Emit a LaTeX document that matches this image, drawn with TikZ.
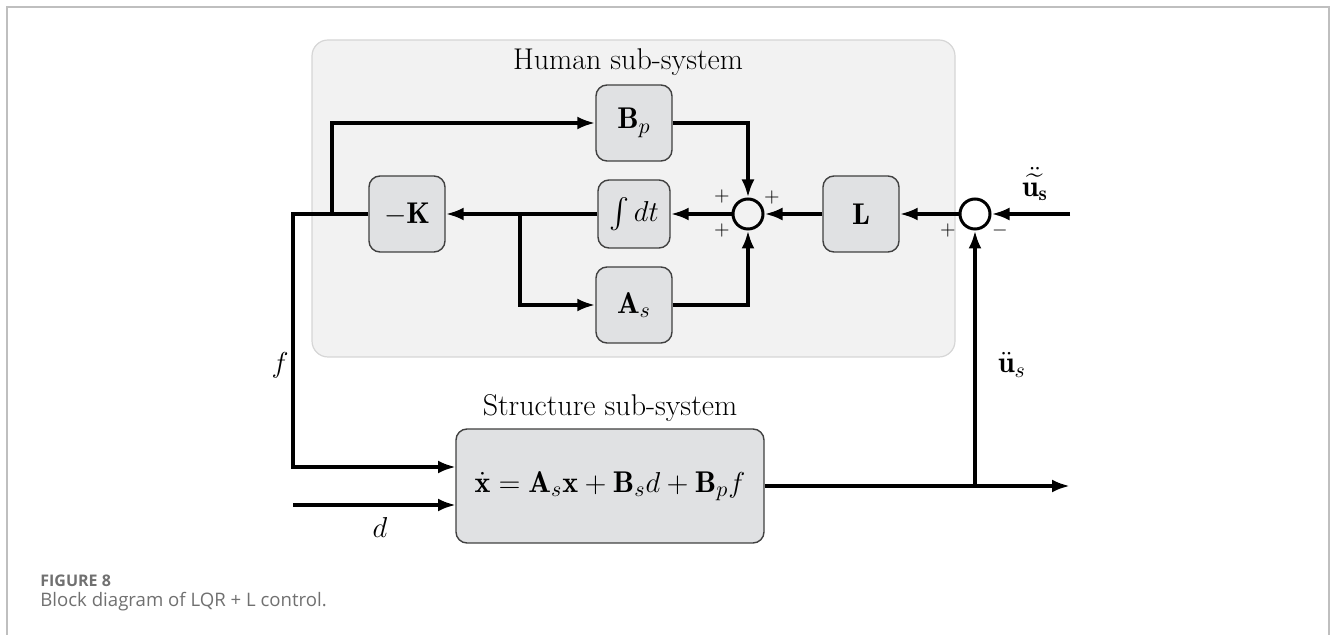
\documentclass[tikz,border=0pt]{standalone}
\usepackage{amsmath}
\usepackage{amssymb}
\usepackage{fontspec}
\newfontfamily\capfont{Open Sans}
\usetikzlibrary{positioning,arrows.meta,calc}
\definecolor{blkfill}{HTML}{E0E1E3}
\definecolor{grpfill}{HTML}{F2F2F2}
\definecolor{grpline}{HTML}{D6D6D6}
\definecolor{capgray}{HTML}{707070}

\begin{document}
\begin{tikzpicture}[
    x=0.5pt, y=-0.5pt,
    font=\fontsize{15}{18}\selectfont,
    grp/.style={draw=grpline, line width=0.6pt, fill=grpfill, rounded corners=8pt},
    blk/.style={draw=black!75, line width=0.7pt, fill=blkfill, rounded corners=5.5pt,
                minimum width=38pt, minimum height=38pt, inner sep=1pt},
    sumnode/.style={draw, circle, line width=1.5pt, minimum size=15pt, inner sep=0pt},
    sig/.style={line width=2pt, -{Latex[length=9pt,width=6.5pt]}},
    sgn/.style={font=\normalsize, inner sep=0pt},
  ]
  \useasboundingbox (0,0) rectangle (1330,635);
  % page frame, open at the bottom
  \draw[black!25, line width=1pt] (7,635) -- (7,7) -- (1329,7) -- (1329,635);

  % human sub-system
  \node[grp, minimum width=321.5pt, minimum height=158.5pt] (hum) at (633.5,198.5) {};
  \node (humt) at (628,62) {Human sub-system};

  \node[blk] (Bp) at (634,123) {$\mathbf{B}_p$};
  \node[blk, minimum width=36pt, minimum height=34pt] (int) at (634,214) {$\int dt$};
  \node[blk] (As) at (634,305) {$\mathbf{A}_s$};
  \node[blk] (K) at (407,214) {$-\mathbf{K}$};
  \node[blk] (L) at (861,214) {$\mathbf{L}$};
  \node[sumnode] (s1) at (748,214) {};
  \node[sumnode] (s2) at (975,214) {};

  % structure sub-system
  \node[blk, minimum width=154pt, minimum height=57pt] (struct) at (610,486)
    {$\dot{\mathbf{x}}=\mathbf{A}_s\mathbf{x}+\mathbf{B}_s d+\mathbf{B}_p f$};
  \node (strt) at (610,408) {Structure sub-system};

  % free ends and branch points
  \coordinate (uin) at (1070,214);
  \coordinate (out) at (1070,486);
  \coordinate (fb) at (975,486);
  \coordinate (br1) at (520,214);
  \coordinate (br2) at (332,214);
  \coordinate (fc) at (293,214);
  \coordinate (fin) at (456,467);
  \coordinate (d0) at (293,505);
  \coordinate (din) at (456,505);

  % signals
  \draw[sig] (uin) -- (s2);
  \draw[sig] (s2) -- (L);
  \draw[sig] (L) -- (s1);
  \draw[sig] (s1) -- (int);
  \draw[sig] (int) -- (K);
  \draw[sig] (Bp) -| (s1);
  \draw[sig] (As) -| (s1);
  \draw[sig] (br1) |- (As);
  \draw[sig] (br2) |- (Bp);
  \draw[sig] (K) -- (fc) |- (fin);
  \draw[sig] (d0) -- (din);
  \draw[sig] (struct) -- (out);
  \draw[sig] (fb) -- (s2);

  % signs and labels
  \node[sgn] at (722,197) {$+$};
  \node[sgn] at (722,231) {$+$};
  \node[sgn] at (772,198) {$+$};
  \node[sgn] at (948,231) {$+$};
  \node[sgn] at (1000,231) {$-$};
  \node[inner sep=0pt] (ut) at (1035,184) {$\ddot{\widetilde{\mathbf{u}_{\mathbf{s}}}}$};
  \node (ud) at (1012,365) {$\ddot{\mathbf{u}}_s$};
  \node (fl) at (280,365) {$f$};
  \node (dl) at (380,528) {$d$};

  % caption
  \node[anchor=base west, inner sep=0pt, font=\capfont\fontsize{8}{9}\selectfont\bfseries,
        text=capgray] (capa) at (40,587) {FIGURE 8};
  \node[anchor=base west, inner sep=0pt, font=\capfont\fontsize{9.3}{11}\selectfont,
        text=capgray] (capb) at (40,607) {Block diagram of LQR + L control.};
\end{tikzpicture}
\end{document}
